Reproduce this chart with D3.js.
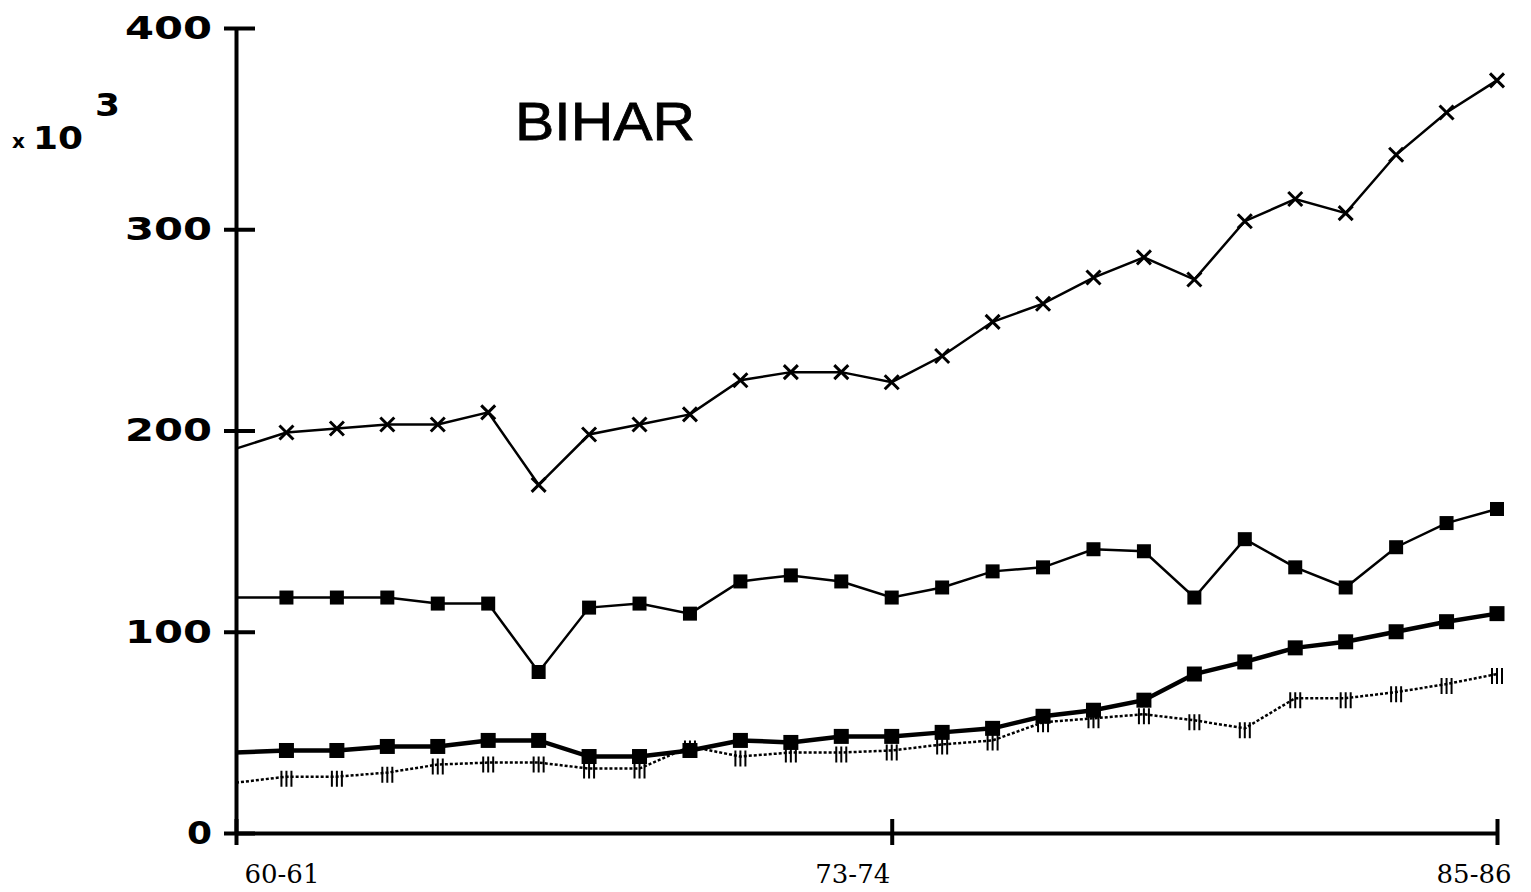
<!DOCTYPE html>
<html>
<head>
<meta charset="utf-8">
<script src="https://cdn.jsdelivr.net/npm/d3@7"></script>
<style>
  body { margin: 0; background: #fff; }
  svg { display: block; }
</style>
</head>
<body>
<div class="chart"></div>
<script>
// years on the x axis, only three are labelled
const years = ["60-61","61-62","62-63","63-64","64-65","65-66","66-67","67-68","68-69","69-70",
  "70-71","71-72","72-73","73-74","74-75","75-76","76-77","77-78","78-79","79-80",
  "80-81","81-82","82-83","83-84","84-85","85-86"];
const xTickLabels = ["60-61", "73-74", "85-86"];
const yTickValues = [0, 100, 200, 300, 400];

// values in thousands
const crossSeries = [191, 199, 201, 203, 203, 209, 173, 198, 203, 208, 225, 229, 229, 224, 237, 254, 263, 276, 286, 275, 304, 315, 308, 337, 358, 374];
const thinSquareSeries = [117, 117, 117, 117, 114, 114, 80, 112, 114, 109, 125, 128, 125, 117, 122, 130, 132, 141, 140, 117, 146, 132, 122, 142, 154, 161];
const thickSquareSeries = [40, 41, 41, 43, 43, 46, 46, 38, 38, 41, 46, 45, 48, 48, 50, 52, 58, 61, 66, 79, 85, 92, 95, 100, 105, 109];
const dottedSeries = [25, 28, 28, 30, 34, 35, 35, 32, 32, 43, 38, 40, 40, 41, 44, 46, 55, 57, 59, 56, 52, 67, 67, 70, 74, 79];

let width = 1531, height = 892;

let svg = d3.select(".chart")
  .append("svg")
  .attr("width", width)
  .attr("height", height);

let x = d3.scalePoint().domain(years).range([236, 1497]);
let y = d3.scaleLinear().domain([0, 400]).range([833, 28]);

const blockFont = "'DejaVu Sans', sans-serif";

// y axis
let yAxis = svg.append("g")
  .attr("transform", "translate(236,0)")
  .call(d3.axisLeft(y).tickValues(yTickValues).tickSizeInner(12).tickSizeOuter(0).tickPadding(12));
yAxis.select(".domain").attr("stroke", "#000").attr("stroke-width", 4);
yAxis.selectAll(".tick line").attr("x1", 19).attr("x2", -12).attr("stroke", "#000").attr("stroke-width", 4);
yAxis.selectAll(".tick text")
  .attr("fill", "#000")
  .style("font-family", blockFont)
  .style("font-weight", "bold")
  .style("font-size", "32px")
  .attr("textLength", d => String(d).length * 31 - 6)
  .attr("lengthAdjust", "spacingAndGlyphs");

// x axis
let xAxis = svg.append("g")
  .attr("transform", "translate(0,833)")
  .call(d3.axisBottom(x).tickValues(xTickLabels).tickSizeInner(12).tickSizeOuter(0).tickPadding(20));
xAxis.select(".domain").attr("stroke", "#000").attr("stroke-width", 4);
xAxis.selectAll(".tick line").attr("y1", 12).attr("y2", -14).attr("stroke", "#000").attr("stroke-width", 4);
xAxis.selectAll(".tick text")
  .attr("fill", "#000")
  .style("font-family", "'DejaVu Serif', serif")
  .style("font-size", "26px")
  .attr("text-anchor", (d, i) => i === 0 ? "start" : "end")
  .attr("dx", (d, i) => i === 0 ? 8 : (i === 1 ? -2 : 14));

// unit label
svg.append("text").attr("x", 12).attr("y", 148).text("x")
  .style("font-family", blockFont).style("font-weight", "bold").style("font-size", "20px");
svg.append("text").attr("x", 33).attr("y", 149).text("10")
  .attr("textLength", 50).attr("lengthAdjust", "spacingAndGlyphs")
  .style("font-family", blockFont).style("font-weight", "bold").style("font-size", "32px");
svg.append("text").attr("x", 95).attr("y", 116).text("3")
  .attr("textLength", 25).attr("lengthAdjust", "spacingAndGlyphs")
  .style("font-family", blockFont).style("font-weight", "bold").style("font-size", "32px");

// title
svg.append("text").attr("x", 515).attr("y", 140).text("BIHAR")
  .attr("textLength", 180).attr("lengthAdjust", "spacingAndGlyphs")
  .attr("stroke", "#000").attr("stroke-width", 0.8)
  .style("font-family", "'Liberation Sans', Arial, sans-serif").style("font-size", "54px");

let line = d3.line()
  .x((d, i) => x(years[i]))
  .y(d => y(d));

function drawLine(values, w, dash) {
  svg.append("path")
    .datum(values)
    .attr("d", line)
    .attr("fill", "none")
    .attr("stroke", "#000")
    .attr("stroke-width", w)
    .attr("stroke-dasharray", dash || null);
}

drawLine(dottedSeries, 2.5, "3,2");
drawLine(thickSquareSeries, 4.5);
drawLine(thinSquareSeries, 2.5);
drawLine(crossSeries, 2.5);

// cross markers
let crosses = svg.selectAll("g.cross")
  .data(crossSeries.slice(1))
  .enter()
  .append("g")
  .attr("transform", (d, i) => "translate(" + x(years[i + 1]) + "," + y(d) + ")");
crosses.append("path")
  .attr("d", "M-7,-7L7,7M-7,7L7,-7")
  .attr("stroke", "#000")
  .attr("stroke-width", 3)
  .attr("fill", "none");

// square markers
function drawSquares(values, s) {
  svg.selectAll(null)
    .data(values.slice(1))
    .enter()
    .append("rect")
    .attr("x", (d, i) => x(years[i + 1]) - s / 2)
    .attr("y", d => y(d) - s / 2)
    .attr("width", s)
    .attr("height", s)
    .attr("fill", "#000");
}
drawSquares(thinSquareSeries, 14);
drawSquares(thickSquareSeries, 15);

// triple bar markers on the dotted series
let bars = svg.selectAll("g.bars")
  .data(dottedSeries.slice(1))
  .enter()
  .append("g")
  .attr("transform", (d, i) => "translate(" + x(years[i + 1]) + "," + y(d) + ")");
bars.append("path")
  .attr("d", "M-5,-6V10M0,-6V10M5,-6V10")
  .attr("stroke", "#000")
  .attr("stroke-width", 2)
  .attr("fill", "none");
</script>
</body>
</html>
